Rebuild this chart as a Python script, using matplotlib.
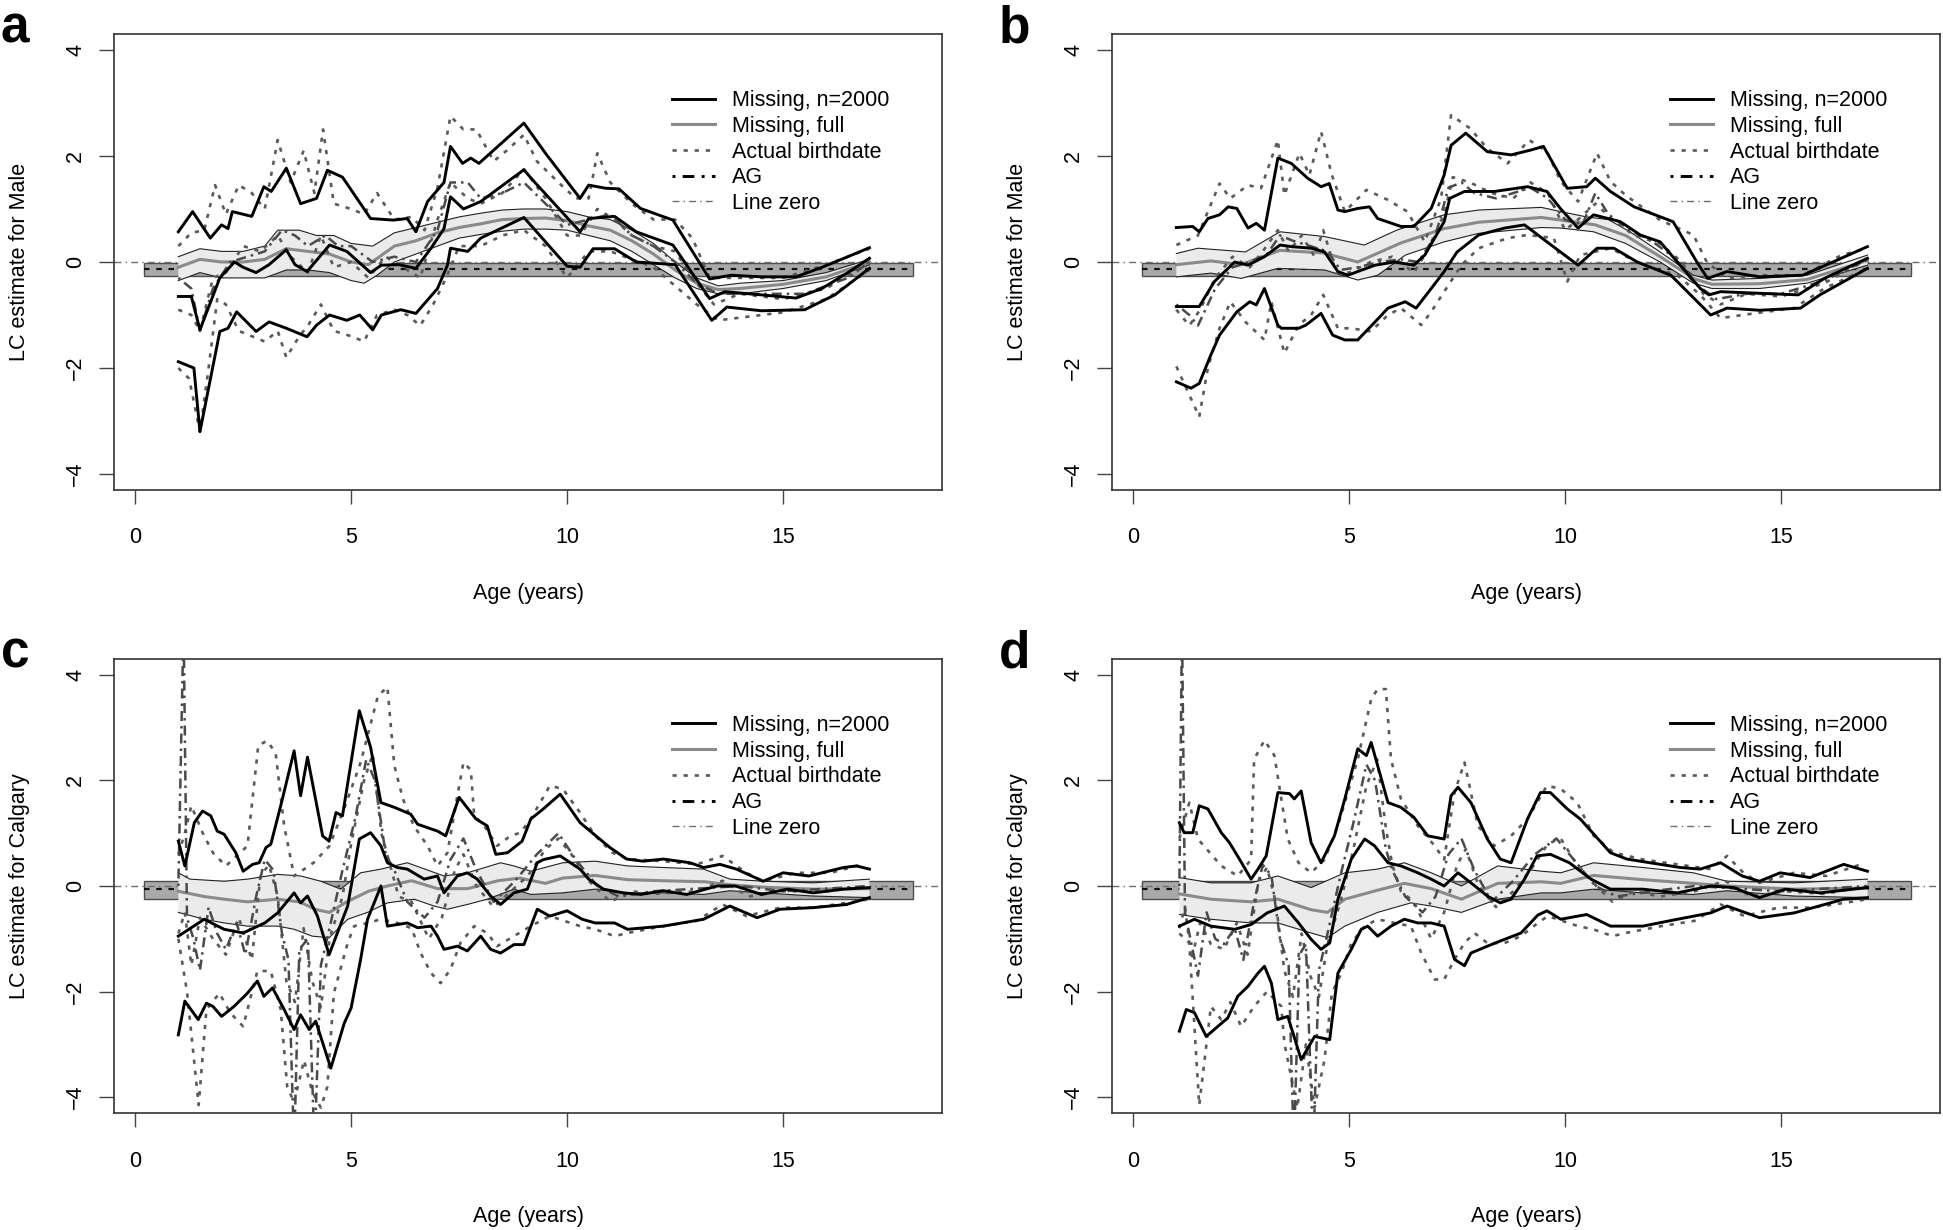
import matplotlib
matplotlib.use("Agg")
import matplotlib.pyplot as plt
from matplotlib.lines import Line2D
from matplotlib.patches import Rectangle

plt.rcParams['font.family'] = ['Liberation Sans', 'DejaVu Sans']

# --- reference band (x0, x1, y0, y1) and dashed line inside it ---
REF_AB = (0.2, 18.0, -0.26, -0.01)
REF_AB_MID = -0.14
REF_CD = (0.2, 18.0, -0.24, 0.10)
REF_CD_MID = -0.05

# ---------------- panel a (Male) ----------------
A_MISS_UP = [(1.0,0.57),(1.33,0.95),(1.74,0.45),(2.0,0.7),(2.15,0.63),(2.25,0.95),(2.7,0.86),(2.98,1.42),(3.15,1.33),
             (3.5,1.77),(3.83,1.1),(4.2,1.2),(4.45,1.73),(4.8,1.6),(5.45,0.82),(5.98,0.79),(6.3,0.82),(6.5,0.57),
             (6.77,1.14),(7.15,1.5),(7.3,2.18),(7.58,1.86),(7.77,1.96),(7.96,1.86),(9.0,2.62),(9.5,2.05),(10.3,1.2),
             (10.5,1.45),(10.9,1.39),(11.2,1.38),(11.7,1.01),(12.45,0.79),(13.3,-0.32),(13.8,-0.25),(14.5,-0.28),
             (15.3,-0.28),(15.9,-0.1),(16.5,0.1),(17.0,0.27)]
A_MISS_EST = [(1.0,-0.65),(1.3,-0.65),(1.5,-1.28),(1.96,-0.3),(2.3,0.0),(2.5,-0.1),(2.8,-0.2),(3.1,-0.05),(3.5,0.23),
              (3.7,-0.05),(3.98,-0.18),(4.5,0.32),(4.9,0.2),(5.45,-0.2),(5.7,-0.06),(6.1,-0.05),(6.5,-0.12),(6.85,0.26),
              (7.15,0.63),(7.3,1.23),(7.6,1.0),(8.0,1.14),(9.0,1.74),(9.2,1.55),(10.3,0.57),(10.5,0.82),(11.1,0.86),
              (11.6,0.57),(12.45,0.32),(13.3,-0.69),(13.65,-0.56),(14.5,-0.62),(15.3,-0.68),(15.9,-0.5),(16.5,-0.2),
              (17.0,0.07)]
A_MISS_LO = [(1.0,-1.88),(1.36,-2.0),(1.5,-3.2),(1.96,-1.31),(2.15,-1.25),(2.35,-0.94),(2.8,-1.31),(3.1,-1.13),
             (3.5,-1.25),(3.98,-1.41),(4.2,-1.19),(4.5,-1.0),(4.9,-1.1),(5.2,-1.0),(5.5,-1.28),(5.7,-1.0),(6.15,-0.9),
             (6.5,-0.97),(7.0,-0.5),(7.23,-0.06),(7.3,0.26),(7.7,0.2),(8.0,0.45),(9.0,0.84),(10.0,-0.08),(10.3,-0.1),
             (10.6,0.25),(11.1,0.25),(11.6,0.0),(12.5,-0.05),(13.35,-1.1),(13.7,-0.85),(14.5,-0.92),(15.5,-0.9),
             (16.2,-0.62),(17.0,-0.12)]
A_FULL_UP = [(1.0,0.1),(1.5,0.25),(2.0,0.2),(2.5,0.2),(3.0,0.3),(3.3,0.6),(3.8,0.6),(4.2,0.5),(4.6,0.5),(5.0,0.35),
             (5.5,0.3),(6.0,0.55),(6.5,0.65),(7.0,0.75),(7.5,0.85),(8.0,0.92),(8.5,0.98),(9.0,1.0),(9.5,1.0),(10.0,0.95),
             (10.5,0.85),(11.0,0.8),(11.5,0.6),(12.0,0.35),(12.5,0.0),(13.0,-0.3),(13.5,-0.45),(14.0,-0.4),(15.0,-0.35),
             (16.0,-0.2),(17.0,0.05)]
A_FULL_EST = [(1.0,-0.1),(1.5,0.05),(2.0,0.0),(2.5,0.0),(3.0,0.05),(3.5,0.25),(4.0,0.2),(4.5,0.15),(5.0,0.0),(5.4,-0.05),
              (6.0,0.3),(6.5,0.4),(7.0,0.55),(7.5,0.65),(8.0,0.72),(8.5,0.8),(9.0,0.82),(9.5,0.83),(10.0,0.78),
              (10.5,0.68),(11.0,0.6),(11.5,0.4),(12.0,0.15),(12.5,-0.15),(13.0,-0.4),(13.5,-0.52),(14.0,-0.5),
              (15.0,-0.42),(16.0,-0.28),(17.0,0.0)]
A_FULL_LO = [(1.0,-0.35),(1.5,-0.2),(2.0,-0.3),(2.5,-0.3),(3.0,-0.3),(3.5,-0.15),(4.0,-0.15),(4.5,-0.2),(5.0,-0.35),
             (5.3,-0.4),(5.6,-0.25),(6.0,0.0),(6.5,0.15),(7.0,0.3),(7.5,0.45),(8.0,0.52),(8.5,0.58),(9.0,0.62),
             (9.5,0.62),(10.0,0.6),(10.5,0.5),(11.0,0.4),(11.5,0.2),(12.0,-0.05),(12.5,-0.3),(13.0,-0.5),(13.5,-0.6),
             (14.0,-0.6),(15.0,-0.5),(16.0,-0.35),(17.0,-0.05)]
A_BIRTH_UP = [(1.0,0.3),(1.3,0.55),(1.6,0.6),(1.85,1.45),(2.1,0.9),(2.4,1.45),(2.7,1.3),(3.0,1.0),(3.3,2.3),(3.6,1.5),
              (3.9,2.1),(4.15,1.3),(4.35,2.5),(4.6,1.1),(5.0,1.0),(5.3,0.9),(5.6,1.3),(6.0,0.8),(6.4,0.85),(6.7,0.6),
              (7.0,1.4),(7.3,2.75),(7.6,2.5),(7.9,2.5),(8.3,1.9),(8.6,2.1),(9.0,2.4),(9.3,1.9),(9.8,1.5),(10.2,1.2),
              (10.5,1.2),(10.7,2.05),(11.0,1.5),(11.5,1.1),(12.0,0.8),(12.5,0.8),(12.9,0.45),(13.3,-0.3),(14.0,-0.3),
              (15.0,-0.3),(16.0,-0.05),(17.0,0.25)]
A_BIRTH_EST = [(1.0,-0.9),(1.3,-1.0),(1.5,-1.3),(1.8,-0.3),(2.1,-0.2),(2.5,0.3),(2.9,0.2),(3.3,0.5),(3.6,0.1),(4.0,-0.2),
               (4.3,0.5),(4.6,-0.1),(5.0,0.0),(5.4,-0.3),(5.8,0.1),(6.2,-0.1),(6.6,-0.3),(7.0,0.8),(7.3,1.5),(7.7,1.2),
               (8.0,1.1),(8.5,1.3),(9.0,1.75),(9.5,1.2),(10.0,0.5),(10.3,0.5),(10.7,1.0),(11.1,0.8),(11.5,0.5),
               (12.0,0.3),(12.5,0.2),(13.0,-0.4),(13.4,-0.8),(14.0,-0.6),(15.0,-0.7),(16.0,-0.5),(17.0,0.0)]
A_BIRTH_LO = [(1.0,-2.0),(1.25,-2.2),(1.5,-3.2),(1.7,-2.0),(1.9,-0.7),(2.1,-0.8),(2.4,-1.3),(2.7,-1.4),(3.0,-1.5),
              (3.3,-1.3),(3.5,-1.8),(3.8,-1.4),(4.0,-1.2),(4.3,-0.8),(4.6,-1.3),(5.0,-1.4),(5.3,-1.5),(5.6,-1.0),
              (6.0,-0.9),(6.3,-1.0),(6.6,-1.2),(6.9,-0.8),(7.2,-0.3),(7.5,0.3),(8.0,0.3),(8.5,0.5),(9.0,0.6),(9.5,0.3),
              (10.0,-0.3),(10.5,0.2),(11.0,0.2),(12.0,-0.1),(13.0,-0.8),(13.5,-1.1),(14.0,-1.05),(15.0,-0.95),
              (16.0,-0.7),(17.0,-0.15)]
A_AG = [(1.0,-0.3),(1.3,-0.5),(1.5,-1.3),(1.8,-0.5),(2.2,0.0),(2.6,0.1),(3.0,0.2),(3.4,0.6),(3.7,0.5),(4.0,0.3),
        (4.4,0.5),(4.7,0.3),(5.0,0.3),(5.5,0.0),(6.0,0.1),(6.5,0.0),(7.0,0.6),(7.3,1.5),(7.7,1.5),(8.0,1.2),(8.5,1.3),
        (9.0,1.5),(9.5,1.1),(10.0,0.7),(10.5,0.8),(11.0,0.9),(11.5,0.5),(12.0,0.3),(12.5,0.0),(13.0,-0.4),
        (13.5,-0.6),(14.5,-0.6),(15.5,-0.6),(16.5,-0.3),(17.0,0.0)]

# ---------------- panel b (Male) ----------------
B_MISS_UP = [(1.0,0.65),(1.38,0.67),(1.53,0.57),(1.73,0.82),(2.0,0.89),(2.2,1.04),(2.4,1.01),(2.66,0.64),(2.85,0.73),
             (3.04,0.6),(3.35,1.96),(3.66,1.86),(4.04,1.58),(4.35,1.42),(4.54,1.48),(4.74,0.98),(4.9,0.95),(5.2,1.01),
             (5.47,1.04),(5.66,0.82),(6.2,0.67),(6.5,0.67),(6.9,1.01),(7.2,1.64),(7.36,2.2),(7.7,2.43),(8.2,2.08),
             (8.75,2.02),(9.2,2.11),(9.5,2.18),(10.05,1.39),(10.5,1.42),(10.7,1.58),(11.05,1.33),(11.6,1.04),
             (12.5,0.76),(13.05,0.0),(13.3,-0.31),(13.75,-0.18),(14.5,-0.28),(15.5,-0.25),(16.2,0.0),(17.0,0.29)]
B_MISS_EST = [(1.0,-0.84),(1.53,-0.84),(1.88,-0.37),(2.35,0.0),(2.66,-0.06),(3.04,0.1),(3.4,0.32),(3.66,0.29),
              (4.12,0.26),(4.43,0.19),(4.74,-0.18),(4.97,-0.25),(5.2,-0.18),(5.6,-0.06),(6.05,0.0),(6.5,-0.06),
              (6.75,0.13),(7.2,0.76),(7.33,1.2),(7.67,1.33),(8.36,1.33),(9.13,1.42),(9.58,1.33),(9.89,1.01),
              (10.3,0.64),(10.66,0.89),(11.28,0.76),(11.74,0.51),(12.2,0.38),(12.6,0.0),(13.13,-0.5),(13.33,-0.62),
              (13.6,-0.56),(14.5,-0.59),(15.4,-0.62),(16.0,-0.31),(17.0,0.07)]
B_MISS_LO = [(1.0,-2.26),(1.34,-2.38),(1.53,-2.29),(1.8,-1.75),(2.0,-1.38),(2.4,-0.94),(2.7,-0.75),(2.85,-0.81),
             (3.04,-0.5),(3.35,-1.19),(3.43,-1.25),(3.83,-1.25),(4.0,-1.19),(4.35,-0.97),(4.62,-1.38),(4.9,-1.47),
             (5.2,-1.47),(5.6,-1.13),(5.9,-0.87),(6.3,-0.75),(6.55,-0.87),(6.9,-0.5),(7.2,-0.18),(7.5,0.19),(8.0,0.51),
             (8.6,0.64),(9.06,0.7),(9.58,0.38),(10.3,-0.06),(10.74,0.26),(11.13,0.26),(11.67,0.0),(12.45,-0.25),
             (13.37,-1.0),(13.75,-0.87),(14.5,-0.91),(15.45,-0.87),(15.9,-0.62),(17.0,-0.12)]
B_FULL_UP = [(1.0,0.16),(1.5,0.26),(2.6,0.19),(3.4,0.57),(4.43,0.48),(5.35,0.32),(6.1,0.6),(7.2,0.89),(8.0,0.98),
             (9.45,1.03),(9.9,0.95),(10.5,0.85),(11.0,0.8),(11.5,0.57),(12.2,0.19),(12.97,-0.25),(13.4,-0.34),
             (14.5,-0.31),(15.6,-0.25),(17.0,0.13)]
B_FULL_EST = [(1.0,-0.05),(1.8,0.02),(2.5,-0.05),(3.4,0.22),(4.4,0.17),(5.2,0.0),(6.2,0.36),(7.2,0.63),(8.0,0.75),
              (9.45,0.84),(10.0,0.78),(10.7,0.7),(11.4,0.5),(12.2,0.1),(13.0,-0.32),(13.4,-0.42),(14.5,-0.41),
              (15.6,-0.33),(17.0,0.03)]
B_FULL_LO = [(1.0,-0.28),(1.8,-0.21),(2.5,-0.31),(3.35,-0.12),(4.43,-0.15),(5.2,-0.34),(5.66,-0.25),(6.3,0.13),
             (7.2,0.38),(8.0,0.54),(9.45,0.65),(9.9,0.64),(10.66,0.57),(11.4,0.35),(12.2,0.0),(12.97,-0.4),(13.4,-0.5),
             (14.5,-0.5),(15.6,-0.4),(17.0,-0.06)]
B_BIRTH_UP = [(1.0,0.32),(1.5,0.5),(2.0,1.48),(2.25,1.2),(2.66,1.45),(2.96,1.39),(3.35,2.3),(3.5,1.26),(3.85,2.05),
              (4.08,1.64),(4.35,2.46),(4.6,1.64),(4.9,0.95),(5.4,1.36),(5.9,1.17),(6.35,0.95),(6.75,0.38),(7.13,1.2),
              (7.36,2.77),(7.8,2.52),(8.2,2.14),(8.67,1.86),(9.17,2.3),(9.58,2.08),(9.9,1.52),(10.3,1.14),(10.74,2.05),
              (11.05,1.52),(11.4,1.26),(12.2,0.79),(12.97,0.51),(13.28,0.0),(13.75,-0.31),(14.5,-0.25),(15.5,-0.25),
              (16.4,0.13),(17.0,0.26)]
B_BIRTH_EST = [(1.0,-0.9),(1.3,-1.2),(1.55,-0.9),(1.9,-0.3),(2.3,0.1),(2.7,-0.1),(3.0,0.2),(3.35,0.6),(3.6,0.2),
               (3.9,0.5),(4.2,0.1),(4.4,0.6),(4.7,-0.2),(5.0,-0.2),(5.5,0.0),(6.0,0.1),(6.5,-0.2),(6.8,0.2),(7.2,0.9),
               (7.4,1.6),(7.8,1.5),(8.3,1.3),(8.8,1.2),(9.2,1.5),(9.6,1.3),(10.0,0.6),(10.3,0.8),(10.7,1.1),
               (11.1,0.8),(11.6,0.5),(12.2,0.35),(12.7,0.0),(13.2,-0.6),(13.6,-0.8),(14.2,-0.6),(15.0,-0.65),
               (16.0,-0.4),(17.0,0.05)]
B_BIRTH_LO = [(1.0,-1.97),(1.53,-2.92),(1.73,-2.0),(2.0,-1.25),(2.25,-0.75),(2.6,-1.13),(3.04,-1.47),(3.2,-0.75),
              (3.5,-1.72),(3.83,-1.19),(4.12,-1.0),(4.4,-0.62),(4.74,-1.25),(5.05,-1.25),(5.5,-1.31),(5.9,-1.0),
              (6.2,-0.87),(6.67,-1.19),(6.9,-0.94),(7.2,-0.56),(7.6,-0.06),(8.0,0.26),(8.67,0.45),(9.13,0.51),
              (9.74,0.45),(10.05,-0.37),(10.35,0.13),(11.05,0.26),(11.8,-0.06),(12.6,-0.25),(13.13,-0.62),
              (13.6,-1.06),(14.1,-1.0),(15.3,-0.87),(16.0,-0.5),(17.0,-0.12)]
B_AG = [(1.0,-0.8),(1.3,-1.0),(1.5,-1.2),(1.9,-0.5),(2.3,-0.1),(2.7,0.0),(3.1,0.15),(3.4,0.5),(3.7,0.4),(4.1,0.3),
        (4.5,0.2),(4.8,-0.15),(5.2,-0.1),(5.7,0.0),(6.2,0.05),(6.6,0.0),(7.0,0.5),(7.3,1.4),(7.6,1.5),(7.9,1.3),
        (8.4,1.2),(8.8,1.3),(9.2,1.4),(9.6,1.2),(10.0,0.8),(10.4,0.7),(10.7,1.3),(11.0,0.9),(11.5,0.6),(12.0,0.4),
        (12.5,0.1),(13.0,-0.4),(13.5,-0.7),(14.2,-0.6),(15.0,-0.6),(16.0,-0.35),(17.0,0.05)]

# ---------------- panel c (Calgary) ----------------
C_MISS_UP = [(1.0,0.85),(1.15,0.38),(1.37,1.2),(1.56,1.42),(1.75,1.33),(1.9,1.04),(2.06,0.98),(2.33,0.63),(2.5,0.28),
             (2.72,0.41),(2.87,0.44),(3.03,0.73),(3.14,0.79),(3.37,1.52),(3.68,2.56),(3.83,1.71),(3.99,2.44),
             (4.34,0.95),(4.49,0.85),(4.65,1.39),(4.8,1.33),(5.19,3.32),(5.45,2.63),(5.69,1.58),(6.0,1.49),
             (6.38,1.36),(6.54,1.17),(7.0,1.04),(7.19,0.95),(7.5,1.68),(7.89,1.27),(8.15,1.14),(8.35,0.6),(8.62,0.63),
             (8.96,0.85),(9.16,1.27),(9.45,1.46),(9.84,1.74),(10.3,1.2),(10.99,0.73),(11.38,0.51),(11.76,0.47),
             (12.23,0.51),(12.85,0.44),(13.16,0.35),(13.54,0.41),(13.92,0.32),(14.54,0.09),(15.0,0.25),(15.6,0.19),
             (16.4,0.35),(16.7,0.38),(17.0,0.32)]
C_MISS_EST = [(1.0,-0.95),(1.6,-0.63),(2.06,-0.82),(2.5,-0.89),(3.0,-0.7),(3.3,-0.51),(3.68,-0.13),(3.83,-0.32),
              (3.99,-0.19),(4.22,-0.57),(4.49,-1.3),(4.92,-0.38),(5.19,0.89),(5.45,1.01),(5.69,0.76),(5.84,0.44),
              (6.07,0.35),(6.3,0.32),(6.69,0.13),(7.0,0.19),(7.15,-0.13),(7.46,0.19),(7.69,0.25),(7.92,0.13),
              (8.23,-0.19),(8.46,-0.35),(8.77,-0.13),(9.08,-0.06),(9.31,0.44),(9.45,0.5),(9.84,0.57),(10.3,0.32),
              (10.5,0.13),(10.84,-0.06),(11.3,-0.13),(11.7,-0.16),(12.23,-0.09),(12.77,-0.16),(13.47,0.0),(13.9,0.0),
              (14.5,-0.16),(15.1,-0.06),(15.7,-0.13),(16.4,-0.06),(17.0,-0.03)]
C_MISS_LO = [(1.0,-2.82),(1.15,-2.18),(1.46,-2.53),(1.65,-2.22),(1.8,-2.28),(2.0,-2.47),(2.29,-2.28),(2.6,-2.03),
             (2.83,-1.8),(2.98,-2.09),(3.18,-1.93),(3.45,-2.34),(3.68,-2.72),(3.83,-2.44),(4.03,-2.72),(4.18,-2.56),
             (4.53,-3.45),(4.84,-2.6),(5.0,-2.31),(5.22,-1.39),(5.38,-0.63),(5.69,0.0),(5.84,-0.76),(6.3,-0.7),
             (6.54,-0.79),(6.85,-0.76),(7.0,-0.95),(7.15,-1.2),(7.46,-1.14),(7.69,-1.23),(8.0,-0.95),(8.23,-1.2),
             (8.46,-1.27),(8.77,-1.11),(9.0,-1.11),(9.31,-0.44),(9.6,-0.57),(10.0,-0.47),(10.35,-0.63),(10.65,-0.7),
             (11.1,-0.7),(11.4,-0.82),(12.23,-0.76),(13.16,-0.63),(13.77,-0.38),(14.4,-0.6),(14.93,-0.44),
             (15.7,-0.41),(16.47,-0.35),(17.0,-0.22)]
C_FULL_UP = [(1.0,0.25),(1.27,0.13),(2.06,0.09),(2.6,0.13),(3.3,0.22),(3.83,0.19),(4.3,0.09),(4.76,-0.06),(5.22,0.25),
             (5.69,0.32),(6.3,0.44),(7.15,0.19),(7.69,0.25),(8.46,0.44),(8.77,0.38),(9.16,0.28),(9.9,0.44),
             (10.65,0.47),(11.4,0.38),(12.23,0.35),(13.16,0.32),(13.77,0.13),(14.54,0.09),(15.7,0.06),(17.0,0.13)]
C_FULL_EST = [(1.0,-0.1),(1.6,-0.2),(2.06,-0.25),(2.6,-0.3),(3.3,-0.25),(3.8,-0.3),(4.2,-0.45),(4.5,-0.5),(4.9,-0.3),
              (5.4,-0.1),(5.84,0.0),(6.4,0.1),(7.0,-0.05),(7.7,-0.05),(8.4,0.1),(8.9,0.15),(9.5,0.05),(9.9,0.15),
              (10.65,0.2),(11.4,0.12),(12.2,0.1),(13.2,0.08),(13.8,0.02),(14.5,-0.02),(15.7,-0.06),(17.0,-0.05)]
C_FULL_LO = [(1.0,-0.5),(1.6,-0.63),(2.06,-0.7),(2.6,-0.76),(3.3,-0.76),(3.68,-0.82),(4.1,-0.95),(4.49,-0.98),
             (4.92,-0.63),(5.38,-0.5),(5.84,-0.32),(6.46,-0.25),(6.92,-0.38),(7.23,-0.44),(7.69,-0.35),(8.15,-0.25),
             (8.77,-0.06),(9.16,-0.16),(9.9,-0.13),(10.65,-0.06),(11.4,-0.13),(12.23,-0.13),(13.16,-0.16),
             (13.77,-0.09),(15.7,-0.19),(17.0,-0.22)]
C_BIRTH_UP = [(1.0,0.6),(1.15,1.0),(1.3,1.52),(1.56,1.01),(1.8,0.63),(2.1,0.38),(2.6,0.76),(2.85,2.66),(3.05,2.75),
              (3.25,2.53),(3.45,1.14),(3.68,0.19),(4.13,0.44),(4.5,0.76),(4.9,1.6),(5.22,2.34),(5.62,3.6),(5.84,3.77),
              (6.0,2.28),(6.2,1.65),(6.45,1.14),(6.77,0.76),(7.0,0.38),(7.23,0.63),(7.46,1.71),(7.6,2.34),(7.77,2.2),
              (7.85,1.33),(8.08,1.14),(8.38,0.76),(8.69,0.95),(8.92,1.01),(9.16,1.27),(9.6,1.9),(9.9,1.84),(10.3,1.39),
              (10.65,0.95),(11.05,0.63),(11.4,0.51),(12.23,0.47),(13.0,0.41),(13.6,0.57),(14.15,0.25),(14.54,0.09),
              (15.3,0.25),(16.1,0.25),(16.85,0.41)]
C_BIRTH_EST = [(1.0,-0.9),(1.15,-0.5),(1.3,-1.5),(1.5,-0.6),(1.8,-1.0),(2.1,-1.3),(2.4,-0.6),(2.7,-1.4),(2.9,0.2),
               (3.1,0.4),(3.3,-0.2),(3.5,-1.8),(3.7,-2.2),(3.9,-0.8),(4.1,-1.8),(4.3,-2.3),(4.5,-1.0),(4.8,-0.2),
               (5.0,0.8),(5.3,2.0),(5.5,2.5),(5.7,1.0),(5.9,0.4),(6.1,-0.2),(6.4,-0.3),(6.8,-1.0),(7.1,-0.6),(7.4,0.3),
               (7.6,0.6),(7.9,0.0),(8.3,-0.4),(8.7,-0.1),(9.1,0.2),(9.5,0.7),(9.8,0.9),(10.1,0.6),(10.5,0.1),
               (11.0,-0.3),(11.5,-0.1),(12.0,-0.15),(13.0,-0.1),(13.6,0.1),(14.2,-0.2),(15.0,-0.1),(16.0,-0.1),
               (17.0,0.0)]
C_BIRTH_LO = [(1.0,-1.0),(1.2,-2.0),(1.47,-4.15),(1.65,-2.34),(1.95,-2.03),(2.2,-2.4),(2.5,-2.66),(2.83,-1.61),
              (3.14,-1.61),(3.37,-2.34),(3.52,-3.8),(3.68,-4.1),(3.91,-3.3),(4.1,-3.9),(4.3,-4.2),(4.45,-3.8),(4.6,-2.03),
              (4.92,-1.08),(5.07,-0.76),(5.38,-0.7),(5.69,-0.63),(6.07,-0.7),(6.4,-0.8),(6.61,-1.27),(6.85,-1.65),
              (7.07,-1.84),(7.3,-1.58),(7.53,-1.08),(7.85,-0.76),(8.15,-0.89),(8.38,-1.14),(8.77,-0.95),(9.16,-0.76),
              (9.6,-0.57),(10.3,-0.76),(10.65,-0.82),(11.1,-0.95),(11.4,-0.89),(12.23,-0.76),(13.0,-0.66),
              (13.6,-0.35),(14.15,-0.57),(14.93,-0.41),(15.7,-0.41),(16.47,-0.32),(17.0,-0.25)]
C_AG = [(1.0,0.0),(1.12,5.0),(1.2,-0.6),(1.35,-1.0),(1.5,-1.6),(1.7,-0.4),(1.9,-0.9),(2.1,-1.2),(2.35,-0.7),
        (2.55,-1.3),(2.8,-0.2),(3.0,0.5),(3.2,0.3),(3.4,-0.9),(3.55,-1.4),(3.68,-5.0),(3.8,-1.2),(4.0,-1.0),
        (4.15,-5.0),(4.3,-1.5),(4.5,-0.8),(4.8,0.3),(5.1,1.3),(5.35,2.4),(5.55,2.0),(5.8,0.6),(6.0,0.3),(6.3,-0.3),
        (6.7,-0.6),(7.0,-0.3),(7.3,0.5),(7.6,0.9),(7.9,0.3),(8.3,-0.3),(8.8,0.1),(9.3,0.6),(9.8,1.0),(10.2,0.5),
        (10.7,0.0),(11.2,-0.2),(12.0,-0.1),(13.0,-0.05),(14.0,0.0),(15.0,-0.1),(16.0,-0.05),(17.0,0.0)]

# ---------------- panel d (Calgary) ----------------
D_MISS_UP = [(1.07,1.2),(1.18,1.01),(1.38,1.01),(1.53,1.52),(1.73,1.46),(2.04,1.01),(2.23,0.82),(2.46,0.51),(2.73,0.13),
             (2.89,0.32),(3.08,0.57),(3.35,1.77),(3.62,1.75),(3.73,1.65),(3.89,1.8),(4.12,0.82),(4.35,0.44),(4.66,0.95),
             (4.9,1.65),(5.2,2.6),(5.4,2.47),(5.51,2.72),(5.9,1.58),(6.2,1.49),(6.5,1.3),(6.82,0.95),(7.2,0.89),
             (7.36,1.71),(7.52,1.87),(7.82,1.58),(8.2,0.89),(8.5,0.51),(8.75,0.44),(9.13,1.27),(9.43,1.77),(9.66,1.77),
             (10.05,1.46),(10.35,1.27),(11.05,0.63),(11.43,0.51),(11.97,0.44),(12.67,0.35),(13.13,0.32),(13.6,0.44),
             (14.1,0.19),(14.5,0.09),(14.98,0.25),(15.67,0.16),(16.45,0.41),(17.0,0.28)]
D_MISS_EST = [(1.07,-0.76),(1.42,-0.63),(1.8,-0.76),(2.35,-0.82),(2.73,-0.73),(3.1,-0.51),(3.5,-0.38),(3.83,-0.7),
              (4.12,-1.01),(4.35,-1.2),(4.55,-1.08),(4.74,-0.25),(5.05,0.51),(5.36,0.89),(5.59,0.76),(5.9,0.44),
              (6.2,0.38),(6.59,0.25),(6.9,0.13),(7.2,0.0),(7.52,0.25),(7.82,0.06),(8.2,-0.19),(8.5,-0.32),(8.75,-0.25),
              (9.06,0.13),(9.35,0.57),(9.66,0.6),(10.1,0.44),(10.6,0.13),(11.05,-0.06),(11.8,-0.06),(12.6,-0.13),
              (13.37,0.0),(13.9,-0.03),(14.5,-0.22),(15.1,-0.06),(15.9,-0.13),(17.0,-0.03)]
D_MISS_LO = [(1.07,-2.75),(1.23,-2.34),(1.42,-2.4),(1.69,-2.85),(1.96,-2.66),(2.19,-2.5),(2.42,-2.09),(2.66,-1.9),
             (2.89,-1.65),(3.04,-1.52),(3.2,-1.84),(3.35,-2.53),(3.58,-2.47),(3.89,-3.29),(4.2,-2.85),(4.55,-2.91),
             (4.74,-1.65),(5.05,-1.2),(5.28,-0.82),(5.43,-0.76),(5.66,-0.95),(5.97,-0.76),(6.28,-0.63),(6.59,-0.7),
             (6.9,-0.7),(7.2,-0.76),(7.44,-1.39),(7.67,-1.51),(7.82,-1.27),(8.2,-1.14),(8.6,-1.01),(8.98,-0.89),
             (9.37,-0.55),(9.58,-0.47),(9.9,-0.63),(10.5,-0.54),(11.05,-0.76),(11.8,-0.76),(12.6,-0.63),(13.37,-0.51),
             (13.75,-0.38),(14.5,-0.6),(15.3,-0.51),(16.45,-0.25),(17.0,-0.22)]
D_FULL_UP = [(1.07,0.16),(1.8,0.06),(2.73,0.06),(3.35,0.19),(4.12,-0.03),(4.9,0.25),(5.66,0.32),(6.28,0.44),(6.9,0.25),
             (7.6,0.0),(8.44,0.38),(9.45,0.28),(9.9,0.25),(10.66,0.44),(11.8,0.35),(12.97,0.25),(13.75,0.09),
             (15.3,0.06),(17.0,0.13)]
D_FULL_EST = [(1.07,-0.15),(1.8,-0.25),(2.73,-0.3),(3.35,-0.25),(4.12,-0.45),(4.5,-0.5),(4.9,-0.25),(5.66,-0.08),
              (6.28,0.05),(6.9,-0.05),(7.6,-0.25),(8.44,0.05),(9.45,0.08),(9.9,0.05),(10.66,0.2),(11.8,0.12),
              (12.97,0.05),(13.75,0.0),(15.3,-0.06),(17.0,-0.04)]
D_FULL_LO = [(1.07,-0.54),(1.8,-0.63),(2.73,-0.7),(3.35,-0.7),(4.12,-0.89),(4.5,-0.98),(4.9,-0.76),(5.66,-0.5),
             (6.43,-0.32),(6.9,-0.38),(7.6,-0.5),(8.44,-0.25),(9.45,-0.13),(9.9,-0.13),(10.66,-0.06),(11.8,-0.13),
             (12.97,-0.16),(13.75,-0.09),(15.3,-0.19),(17.0,-0.22)]
D_BIRTH_UP = [(1.07,0.9),(1.3,1.58),(1.5,0.89),(2.04,0.38),(2.42,0.19),(2.73,0.5),(2.8,2.4),(3.04,2.76),(3.27,2.47),
              (3.43,1.65),(3.58,0.89),(3.83,0.44),(4.12,0.25),(4.43,0.5),(4.74,1.14),(5.2,2.4),(5.51,3.54),(5.66,3.73),
              (5.85,3.73),(5.97,2.4),(6.2,1.65),(6.59,1.14),(6.98,0.76),(7.2,0.5),(7.44,1.77),(7.67,2.34),(7.82,1.77),
              (7.98,1.14),(8.36,0.76),(8.75,0.95),(9.13,1.27),(9.58,1.9),(9.9,1.84),(10.28,1.58),(10.66,0.95),
              (11.13,0.63),(11.82,0.5),(12.6,0.41),(13.37,0.32),(13.75,0.57),(14.13,0.25),(14.5,0.06),(15.3,0.25),
              (16.05,0.19),(16.85,0.41)]
D_BIRTH_EST = [(1.07,-0.8),(1.2,-0.4),(1.35,-1.4),(1.55,-0.7),(1.8,-1.1),(2.1,-1.2),(2.4,-0.7),(2.65,-1.3),(2.9,0.1),
               (3.1,0.35),(3.3,-0.3),(3.5,-1.6),(3.7,-2.1),(3.9,-0.9),(4.1,-1.7),(4.3,-2.1),(4.5,-1.1),(4.8,-0.3),
               (5.1,0.7),(5.4,1.9),(5.65,2.4),(5.85,1.1),(6.0,0.4),(6.2,-0.1),(6.5,-0.3),(6.9,-1.0),(7.2,-0.5),
               (7.5,0.4),(7.7,0.7),(8.0,0.0),(8.4,-0.4),(8.8,-0.1),(9.2,0.3),(9.6,0.8),(9.9,0.9),(10.2,0.5),(10.6,0.1),
               (11.1,-0.3),(11.6,-0.1),(12.2,-0.2),(13.0,-0.1),(13.7,0.1),(14.3,-0.2),(15.1,-0.1),(16.0,-0.15),
               (17.0,0.0)]
D_BIRTH_LO = [(1.07,-0.9),(1.3,-1.08),(1.53,-4.15),(1.8,-2.28),(2.04,-2.53),(2.25,-2.2),(2.5,-2.66),(2.8,-2.28),
              (3.1,-2.0),(3.43,-2.28),(3.5,-2.97),(3.8,-4.2),(4.0,-3.0),(4.2,-4.2),(4.43,-3.29),(4.6,-2.03),
              (4.82,-1.65),(5.05,-1.08),(5.36,-0.76),(5.66,-0.63),(6.05,-0.7),(6.43,-0.76),(6.67,-1.27),(6.98,-1.77),
              (7.2,-1.77),(7.44,-1.39),(7.67,-1.08),(7.9,-0.89),(8.2,-1.08),(8.6,-1.08),(8.98,-0.95),(9.37,-0.7),
              (9.6,-0.57),(10.3,-0.76),(10.65,-0.82),(11.1,-0.95),(11.4,-0.89),(12.23,-0.76),(13.0,-0.66),
              (13.6,-0.35),(14.15,-0.57),(14.93,-0.41),(15.7,-0.41),(16.47,-0.32),(17.0,-0.25)]
D_AG = [(1.07,0.0),(1.13,5.0),(1.2,-0.5),(1.35,-1.1),(1.5,-1.7),(1.7,-0.5),(1.9,-1.0),(2.1,-1.1),(2.35,-0.8),
        (2.55,-1.4),(2.8,-0.3),(3.0,0.4),(3.2,0.2),(3.4,-1.0),(3.6,-1.5),(3.72,-5.0),(3.85,-1.3),(4.0,-1.1),
        (4.17,-5.0),(4.3,-1.6),(4.5,-0.9),(4.8,0.2),(5.1,1.2),(5.4,2.3),(5.6,2.0),(5.85,0.7),(6.0,0.3),(6.3,-0.2),
        (6.7,-0.5),(7.0,-0.2),(7.3,0.6),(7.6,0.9),(7.9,0.3),(8.3,-0.3),(8.8,0.1),(9.3,0.6),(9.8,0.9),(10.2,0.5),
        (10.7,0.0),(11.2,-0.2),(12.0,-0.1),(13.0,0.0),(14.0,-0.05),(15.0,-0.1),(16.0,-0.05),(17.0,0.0)]

LEGEND_LABELS = ["Missing, n=2000", "Missing, full", "Actual birthdate", "AG", "Line zero"]

FS = 15.5
DOT = (0, (1.6, 2.6))
AGDASH = (0, (1.0, 2.0, 4.0, 2.0))
ZERO = (0, (5.0, 3.0, 1.0, 3.0))


def xy(pts):
    return [p[0] for p in pts], [p[1] for p in pts]


def panel(ax, letter, ylabel, ref, ref_mid, miss, full, birth, ag):
    x0, x1, y0, y1 = ref
    ax.add_patch(Rectangle((x0, y0), x1 - x0, y1 - y0, facecolor='#a9a9a9',
                           edgecolor='#4d4d4d', lw=1.0, zorder=1))
    ax.plot([x0, x1], [ref_mid, ref_mid], color='#111111', lw=1.6,
            linestyle=(0, (2.5, 3.0)), zorder=2)
    ax.axhline(0, color='#6e6e6e', lw=1.0, linestyle=ZERO, zorder=2)

    # Missing, full: shaded band + estimate
    ux, uy = xy(full[0])
    lx, ly = xy(full[2])
    ax.fill(ux + lx[::-1], uy + ly[::-1], facecolor='#ebebeb', edgecolor='none', zorder=2)
    ax.plot(ux, uy, color='#222222', lw=0.8, zorder=3)
    ax.plot(lx, ly, color='#222222', lw=0.8, zorder=3)
    ex, ey = xy(full[1])
    ax.plot(ex, ey, color='#8a8a8a', lw=2.2, zorder=3)

    for s in birth:
        bx, by = xy(s)
        ax.plot(bx, by, color='#5a5a5a', lw=1.9, linestyle=DOT, zorder=4)
    gx, gy = xy(ag)
    ax.plot(gx, gy, color='#4a4a4a', lw=1.8, linestyle=AGDASH, zorder=4)
    for s in miss:
        mx, my = xy(s)
        ax.plot(mx, my, color='black', lw=2.1, zorder=5)

    ax.set_xlim(-0.49, 18.68)
    ax.set_ylim(-4.3, 4.3)
    ax.set_xticks([0, 5, 10, 15])
    ax.set_yticks([-4, -2, 0, 2, 4])
    ax.tick_params(axis='x', length=10, width=1, pad=17, labelsize=FS, color='#444444')
    ax.tick_params(axis='y', length=11, width=1, pad=9, labelsize=FS, color='#444444')
    for lab in ax.get_yticklabels():
        lab.set_rotation(90)
        lab.set_va('center')
    for sp in ax.spines.values():
        sp.set_color('#333333')
        sp.set_linewidth(1.2)
    ax.set_xlabel("Age (years)", fontsize=FS, labelpad=25)
    ax.set_ylabel(ylabel, fontsize=FS, labelpad=25)

    handles = [Line2D([], [], color='black', lw=2.1),
               Line2D([], [], color='#8a8a8a', lw=2.2),
               Line2D([], [], color='#5a5a5a', lw=1.9, linestyle=DOT),
               Line2D([], [], color='black', lw=2.1, linestyle=(0, (1.0, 2.5, 4.0, 2.5))),
               Line2D([], [], color='#6e6e6e', lw=1.0, linestyle=ZERO)]
    ax.legend(handles, LEGEND_LABELS, loc='upper left', bbox_to_anchor=(0.674, 0.877),
              frameon=False, fontsize=FS, handlelength=2.0, handletextpad=0.8,
              labelspacing=0.22, borderpad=0, borderaxespad=0)
    ax.text(-0.137, 1.065, letter, transform=ax.transAxes, fontsize=37,
            fontweight='bold', va='top', ha='left')


fig = plt.figure(figsize=(19.43, 12.30), dpi=100)
ax_a = fig.add_axes([0.05867, 0.60163, 0.42615, 0.37073])
ax_b = fig.add_axes([0.57231, 0.60163, 0.42615, 0.37073])
ax_c = fig.add_axes([0.05867, 0.09512, 0.42615, 0.36911])
ax_d = fig.add_axes([0.57231, 0.09512, 0.42615, 0.36911])

panel(ax_a, 'a', "LC estimate for Male", REF_AB, REF_AB_MID,
      [A_MISS_UP, A_MISS_EST, A_MISS_LO], [A_FULL_UP, A_FULL_EST, A_FULL_LO],
      [A_BIRTH_UP, A_BIRTH_EST, A_BIRTH_LO], A_AG)
panel(ax_b, 'b', "LC estimate for Male", REF_AB, REF_AB_MID,
      [B_MISS_UP, B_MISS_EST, B_MISS_LO], [B_FULL_UP, B_FULL_EST, B_FULL_LO],
      [B_BIRTH_UP, B_BIRTH_EST, B_BIRTH_LO], B_AG)
panel(ax_c, 'c', "LC estimate for Calgary", REF_CD, REF_CD_MID,
      [C_MISS_UP, C_MISS_EST, C_MISS_LO], [C_FULL_UP, C_FULL_EST, C_FULL_LO],
      [C_BIRTH_UP, C_BIRTH_EST, C_BIRTH_LO], C_AG)
panel(ax_d, 'd', "LC estimate for Calgary", REF_CD, REF_CD_MID,
      [D_MISS_UP, D_MISS_EST, D_MISS_LO], [D_FULL_UP, D_FULL_EST, D_FULL_LO],
      [D_BIRTH_UP, D_BIRTH_EST, D_BIRTH_LO], D_AG)

fig.savefig("out.png", dpi=100)
